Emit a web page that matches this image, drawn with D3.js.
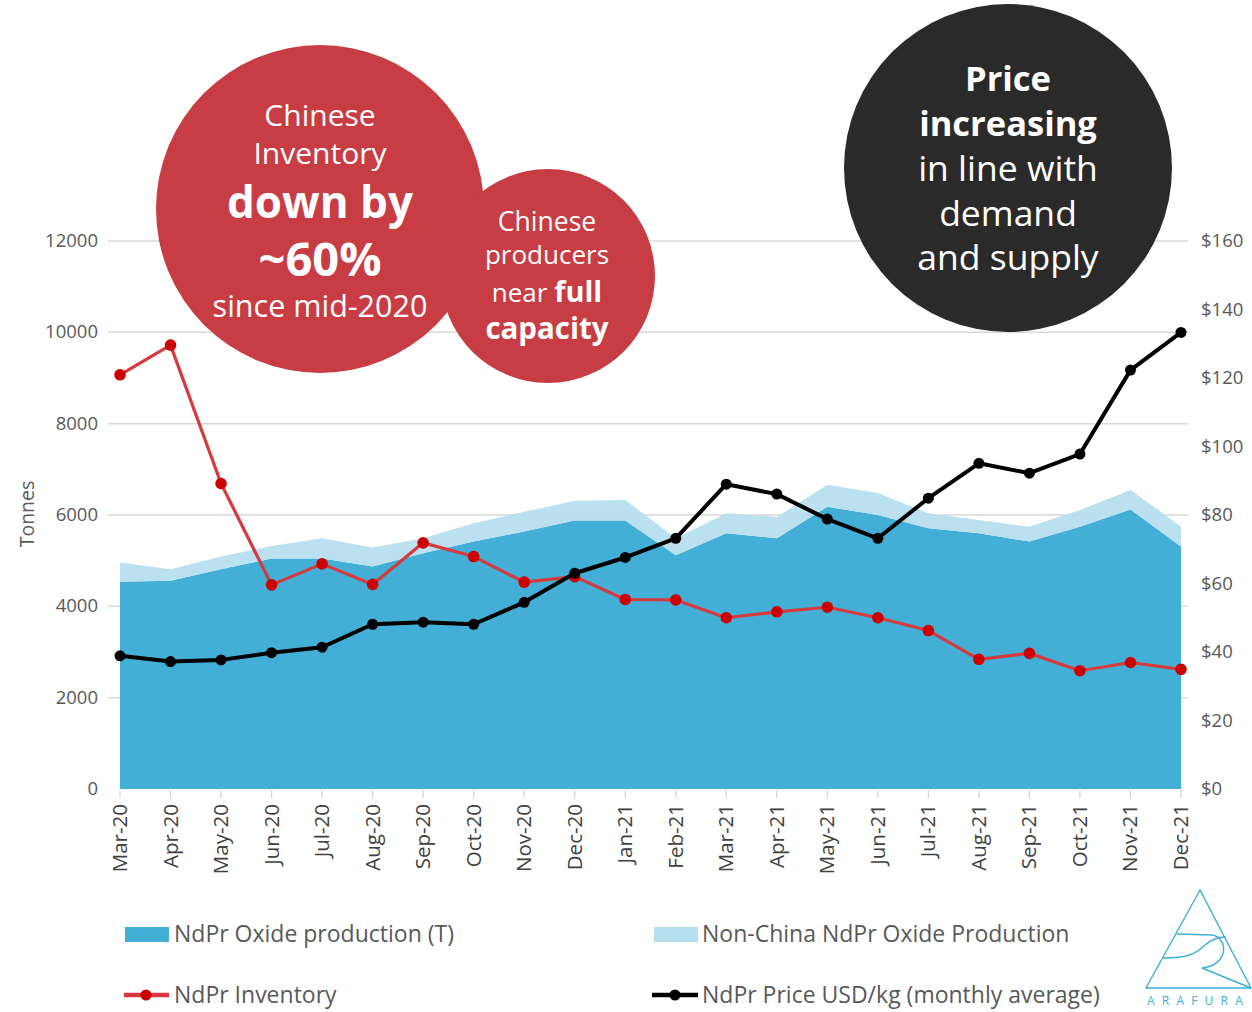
<!DOCTYPE html>
<html>
<head>
<meta charset="utf-8">
<script src="https://cdn.jsdelivr.net/npm/d3@7/dist/d3.min.js"></script>
<style>
  html, body { margin: 0; padding: 0; background: #fff; }
  svg { display: block; }
  text { font-family: "Open Sans", "Noto Sans", sans-serif; }
</style>
</head>
<body>
<svg id="chart" width="1252" height="1012"></svg>
<script>
// ---------------- DATA ----------------
const months = ["Mar-20","Apr-20","May-20","Jun-20","Jul-20","Aug-20","Sep-20","Oct-20","Nov-20","Dec-20","Jan-21","Feb-21","Mar-21","Apr-21","May-21","Jun-21","Jul-21","Aug-21","Sep-21","Oct-21","Nov-21","Dec-21"];
const oxideProduction = [4540,4560,4810,5050,5050,4870,5160,5420,5640,5880,5880,5120,5600,5490,6180,6000,5710,5600,5420,5740,6120,5310];
const nonChinaProduction = [420,250,280,270,440,420,330,400,430,430,450,370,440,470,480,480,330,290,320,370,430,440];
const inventory = [9070,9720,6690,4470,4930,4480,5390,5090,4530,4650,4150,4140,3750,3880,3980,3750,3470,2840,2970,2590,2770,2620];
const priceUSD = [38.9,37.2,37.7,39.8,41.4,48.1,48.7,48.1,54.5,63.0,67.6,73.2,89.0,86.1,78.8,73.2,84.9,95.1,92.2,97.8,122.3,133.3];
const leftTicks = [0,2000,4000,6000,8000,10000,12000];
const rightTicks = [0,20,40,60,80,100,120,140,160];
const legendLabels = ["NdPr Oxide production (T)","Non-China NdPr Oxide Production","NdPr Inventory","NdPr Price USD/kg (monthly average)"];

// ---------------- SETUP ----------------
const svg = d3.select("#chart");
const x = d3.scalePoint().domain(months).range([120, 1181]);
const yL = d3.scaleLinear().domain([0, 12000]).range([789, 241]);
const yR = d3.scaleLinear().domain([0, 160]).range([789, 241]);

const C = {
  dark: "#43AED6", light: "#B5DEEF", red: "#D63A3D", redDot: "#CC0000",
  grid: "#D9D9D9", axisText: "#595959", bubbleRed: "#C73D43", bubbleDark: "#2B2A2B"
};

// gridlines
svg.append("g").selectAll("line").data(leftTicks.filter(d => d > 0)).join("line")
  .attr("x1", 108).attr("x2", 1188)
  .attr("y1", d => yL(d)).attr("y2", d => yL(d))
  .attr("stroke", C.grid).attr("stroke-width", 1.5);

// stacked areas
const rows = months.map((m, i) => ({ m, prod: oxideProduction[i], nc: nonChinaProduction[i] }));
const stack = d3.stack().keys(["prod", "nc"])(rows);
const area = d3.area().x(d => x(d.data.m)).y0(d => yL(d[0])).y1(d => yL(d[1]));
svg.append("g").selectAll("path").data(stack).join("path")
  .attr("d", area)
  .attr("fill", (d, i) => i === 0 ? C.dark : C.light)
  .attr("fill-opacity", (d, i) => i === 0 ? 1 : 0.92);

// x ticks
svg.append("g").selectAll("line").data(months).join("line")
  .attr("x1", d => x(d)).attr("x2", d => x(d))
  .attr("y1", 790).attr("y2", 798)
  .attr("stroke", "#D0D0D0").attr("stroke-width", 1.2);

// x labels
svg.append("g").selectAll("text").data(months).join("text")
  .attr("transform", d => `translate(${x(d) + 7},804) rotate(-90)`)
  .attr("text-anchor", "end")
  .attr("font-size", 20.5).attr("fill", "#404040")
  .text(d => d);

// left axis labels
svg.append("g").selectAll("text").data(leftTicks).join("text")
  .attr("x", 98).attr("y", d => yL(d) + 6)
  .attr("text-anchor", "end").attr("font-size", 18.5).attr("fill", C.axisText)
  .text(d => d);

// right axis labels
svg.append("g").selectAll("text").data(rightTicks).join("text")
  .attr("x", 1201).attr("y", d => yR(d) + 6)
  .attr("text-anchor", "start").attr("font-size", 18.5).attr("fill", C.axisText)
  .text(d => "$" + d);

// y title
svg.append("text")
  .attr("transform", "translate(34,514) rotate(-90)")
  .attr("text-anchor", "middle").attr("font-size", 19.5).attr("fill", C.axisText)
  .text("Tonnes");

// lines
const lineL = d3.line().x((d, i) => x(months[i])).y(d => yL(d));
const lineR = d3.line().x((d, i) => x(months[i])).y(d => yR(d));

svg.append("path").datum(inventory).attr("d", lineL)
  .attr("fill", "none").attr("stroke", C.red).attr("stroke-width", 3.2).attr("stroke-linejoin", "round");
svg.append("g").selectAll("circle").data(inventory).join("circle")
  .attr("cx", (d, i) => x(months[i])).attr("cy", d => yL(d)).attr("r", 5.8)
  .attr("fill", C.redDot);

svg.append("path").datum(priceUSD).attr("d", lineR)
  .attr("fill", "none").attr("stroke", "#000").attr("stroke-width", 4).attr("stroke-linejoin", "round");
svg.append("g").selectAll("circle").data(priceUSD).join("circle")
  .attr("cx", (d, i) => x(months[i])).attr("cy", d => yR(d)).attr("r", 5.5)
  .attr("fill", "#000");

// ---------------- BUBBLES ----------------
function bubbleText(lines) {
  lines.forEach(l => {
    const t = svg.append("text").attr("x", l.x).attr("y", l.y)
      .attr("text-anchor", "middle").attr("fill", "#fff");
    l.parts.forEach(p => {
      t.append("tspan").attr("font-size", p.s).attr("font-weight", p.b ? 700 : 400).text(p.t);
    });
  });
}
svg.append("circle").attr("cx", 320).attr("cy", 209).attr("r", 164).attr("fill", C.bubbleRed);
svg.append("circle").attr("cx", 548).attr("cy", 276).attr("r", 107).attr("fill", C.bubbleRed);
svg.append("circle").attr("cx", 1008).attr("cy", 168).attr("r", 164).attr("fill", C.bubbleDark);

bubbleText([
  { x: 320, y: 126, parts: [{ t: "Chinese", s: 30 }] },
  { x: 320, y: 164, parts: [{ t: "Inventory", s: 30 }] },
  { x: 320, y: 218, parts: [{ t: "down by", s: 44 }].map(p => ({ ...p, b: true })) },
  { x: 320, y: 276, parts: [{ t: "~60%", s: 47, b: true }] },
  { x: 320, y: 317, parts: [{ t: "since mid-2020", s: 30.5 }] },
  { x: 547, y: 231, parts: [{ t: "Chinese", s: 26.5 }] },
  { x: 547, y: 264, parts: [{ t: "producers", s: 26 }] },
  { x: 547, y: 302, parts: [{ t: "near ", s: 26 }, { t: "full", s: 29, b: true }] },
  { x: 547, y: 339, parts: [{ t: "capacity", s: 29.5, b: true }] },
  { x: 1008, y: 91, parts: [{ t: "Price", s: 34.5, b: true }] },
  { x: 1008, y: 136, parts: [{ t: "increasing", s: 34.5, b: true }] },
  { x: 1008, y: 181, parts: [{ t: "in line with", s: 35.5 }] },
  { x: 1008, y: 226, parts: [{ t: "demand", s: 35.5 }] },
  { x: 1008, y: 270, parts: [{ t: "and supply", s: 35.5 }] }
]);

// ---------------- LEGEND ----------------
const lg = svg.append("g");
lg.append("rect").attr("x", 125).attr("y", 927).attr("width", 44).attr("height", 15).attr("fill", C.dark);
lg.append("rect").attr("x", 654).attr("y", 927).attr("width", 44).attr("height", 15).attr("fill", C.light);
lg.append("line").attr("x1", 124).attr("x2", 169).attr("y1", 995).attr("y2", 995).attr("stroke", C.red).attr("stroke-width", 4.5);
lg.append("circle").attr("cx", 146).attr("cy", 995).attr("r", 5.5).attr("fill", C.redDot);
lg.append("line").attr("x1", 652).attr("x2", 698).attr("y1", 995).attr("y2", 995).attr("stroke", "#000").attr("stroke-width", 4.5);
lg.append("circle").attr("cx", 675).attr("cy", 995).attr("r", 5.5).attr("fill", "#000");
const legPos = [[174, 942], [702, 942], [174, 1003], [702, 1003]];
lg.selectAll("text").data(legendLabels).join("text")
  .attr("x", (d, i) => legPos[i][0]).attr("y", (d, i) => legPos[i][1])
  .attr("font-size", 23).attr("fill", C.axisText)
  .text(d => d);

// ---------------- LOGO ----------------
const logo = svg.append("g").attr("fill", "none").attr("stroke", "#3BB0D9").attr("stroke-width", 1.4);
logo.append("path").attr("d", "M1200,890 L1146,988 L1251,988 Z");
logo.append("path").attr("d", "M1177,934 L1212,935 C1228,937 1230,965 1202,968 L1251,988");
logo.append("path").attr("d", "M1163,958 C1185,958 1195,955 1205,945 C1213,938 1220,937 1226,937");
svg.append("text").attr("x", 1147).attr("y", 1005)
  .attr("font-family", "Liberation Serif, serif").attr("font-size", 12)
  .attr("letter-spacing", 7.2).attr("fill", "#3BB0D9")
  .text("ARAFURA");
</script>
</body>
</html>
